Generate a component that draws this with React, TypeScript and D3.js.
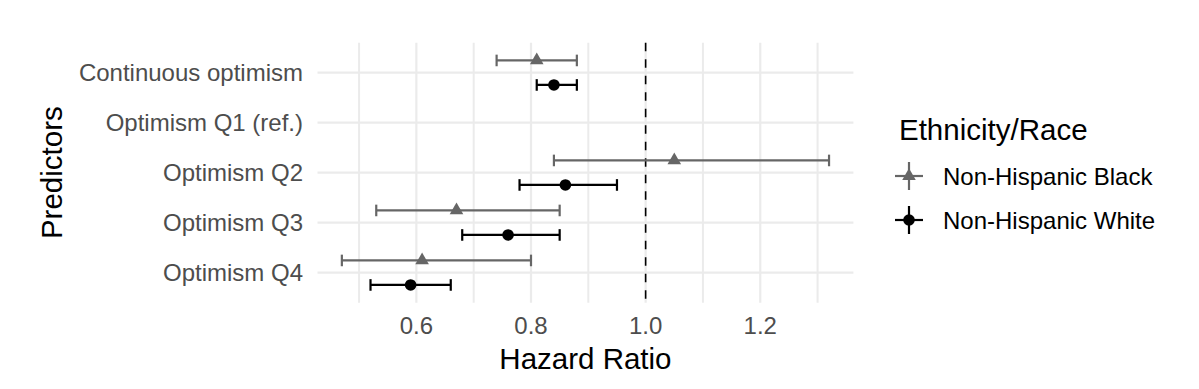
import React from "react";
import * as d3 from "d3";

const categories = [
  "Continuous optimism",
  "Optimism Q1 (ref.)",
  "Optimism Q2",
  "Optimism Q3",
  "Optimism Q4",
];
const groups = ["Non-Hispanic Black", "Non-Hispanic White"];
const blackHR = [0.81, null, 1.05, 0.67, 0.61];
const blackLo = [0.74, null, 0.84, 0.53, 0.47];
const blackHi = [0.88, null, 1.32, 0.85, 0.8];
const whiteHR = [0.84, null, 0.86, 0.76, 0.59];
const whiteLo = [0.81, null, 0.78, 0.68, 0.52];
const whiteHi = [0.88, null, 0.95, 0.85, 0.66];
const majorTicks = [0.6, 0.8, 1.0, 1.2];
const minorTicks = [0.5, 0.7, 0.9, 1.1, 1.3];
const refLine = 1.0;

const W = 1199;
const H = 389;
const panel = { left: 317.5, right: 853.4, top: 42.7, bottom: 302.7 };
const FONT = "'Liberation Sans', Arial, Helvetica, sans-serif";
const colors = ["#666666", "#000000"];

export default function App() {
  const x = d3.scaleLinear().domain([0.4275, 1.3625]).range([panel.left, panel.right]);
  const y = d3.scalePoint<string>().domain(categories).range([panel.top, panel.bottom]).padding(0.6);
  const step = y.step();
  const dodge = step * 0.245;
  const cap = 5.8;
  const lw = 2.2;

  const series = [
    { name: groups[0], hr: blackHR, lo: blackLo, hi: blackHi, off: -dodge, color: colors[0], shape: "tri" },
    { name: groups[1], hr: whiteHR, lo: whiteLo, hi: whiteHi, off: dodge, color: colors[1], shape: "circle" },
  ];
  const tri = d3.symbol().type(d3.symbolTriangle).size(80)() as string;

  const marker = (shape: string, color: string, cx: number, cy: number, key: string) =>
    shape === "tri" ? (
      <path key={key} d={tri} transform={`translate(${cx},${cy})`} fill={color} />
    ) : (
      <circle key={key} cx={cx} cy={cy} r={5.8} fill={color} />
    );

  const legendX = 899;
  const legendKeyX = 909;
  const legendYs = [176, 220];

  return (
    <svg
      width={W}
      height={H}
      style={{ position: "absolute", left: 0, top: 0, background: "#fff" }}
      fontFamily={FONT}
    >
      <rect x={0} y={0} width={W} height={H} fill="#fff" />
      {/* gridlines */}
      {minorTicks.map((t) => (
        <line key={"mn" + t} x1={x(t)} x2={x(t)} y1={panel.top} y2={panel.bottom} stroke="#ebebeb" strokeWidth={2} />
      ))}
      {majorTicks.map((t) => (
        <line key={"mj" + t} x1={x(t)} x2={x(t)} y1={panel.top} y2={panel.bottom} stroke="#ebebeb" strokeWidth={2.2} />
      ))}
      {categories.map((c) => (
        <line key={"h" + c} x1={panel.left} x2={panel.right} y1={y(c)} y2={y(c)} stroke="#ebebeb" strokeWidth={2.2} />
      ))}
      {/* reference line */}
      <line
        x1={x(refLine)}
        x2={x(refLine)}
        y1={panel.top}
        y2={panel.bottom}
        stroke="#000"
        strokeWidth={1.6}
        strokeDasharray="8.5,8"
      />
      {/* error bars and points */}
      {series.map((s) =>
        categories.map((c, i) => {
          const hr = s.hr[i];
          const lo = s.lo[i];
          const hi = s.hi[i];
          if (hr == null || lo == null || hi == null) return null;
          const cy = (y(c) as number) + s.off;
          return (
            <g key={s.name + c}>
              <line x1={x(lo)} x2={x(hi)} y1={cy} y2={cy} stroke={s.color} strokeWidth={lw} />
              <line x1={x(lo)} x2={x(lo)} y1={cy - cap} y2={cy + cap} stroke={s.color} strokeWidth={lw} />
              <line x1={x(hi)} x2={x(hi)} y1={cy - cap} y2={cy + cap} stroke={s.color} strokeWidth={lw} />
              {marker(s.shape, s.color, x(hr), cy, "m")}
            </g>
          );
        })
      )}
      {/* y axis labels */}
      {categories.map((c) => (
        <text
          key={"yl" + c}
          x={303}
          y={y(c)}
          textAnchor="end"
          dominantBaseline="central"
          fontSize={24}
          fill="#4d4d4d"
        >
          {c}
        </text>
      ))}
      {/* x axis labels */}
      {majorTicks.map((t) => (
        <text key={"xl" + t} x={x(t)} y={334} textAnchor="middle" fontSize={24} fill="#4d4d4d">
          {d3.format(".1f")(t)}
        </text>
      ))}
      {/* axis titles */}
      <text x={(panel.left + panel.right) / 2} y={368.5} textAnchor="middle" fontSize={29.5} fill="#000">
        Hazard Ratio
      </text>
      <text
        transform={`translate(62,${(panel.top + panel.bottom) / 2}) rotate(-90)`}
        textAnchor="middle"
        fontSize={29.5}
        fill="#000"
      >
        Predictors
      </text>
      {/* legend */}
      <text x={legendX} y={140} fontSize={29.5} fill="#000">
        Ethnicity/Race
      </text>
      {series.map((s, i) => (
        <g key={"lg" + s.name}>
          <line x1={legendKeyX - 14} x2={legendKeyX + 14} y1={legendYs[i]} y2={legendYs[i]} stroke={s.color} strokeWidth={lw} />
          <line x1={legendKeyX} x2={legendKeyX} y1={legendYs[i] - 14} y2={legendYs[i] + 14} stroke={s.color} strokeWidth={lw} />
          {marker(s.shape, s.color, legendKeyX, legendYs[i], "lm")}
          <text x={943} y={legendYs[i]} dominantBaseline="central" fontSize={24} fill="#000">
            {s.name}
          </text>
        </g>
      ))}
    </svg>
  );
}
